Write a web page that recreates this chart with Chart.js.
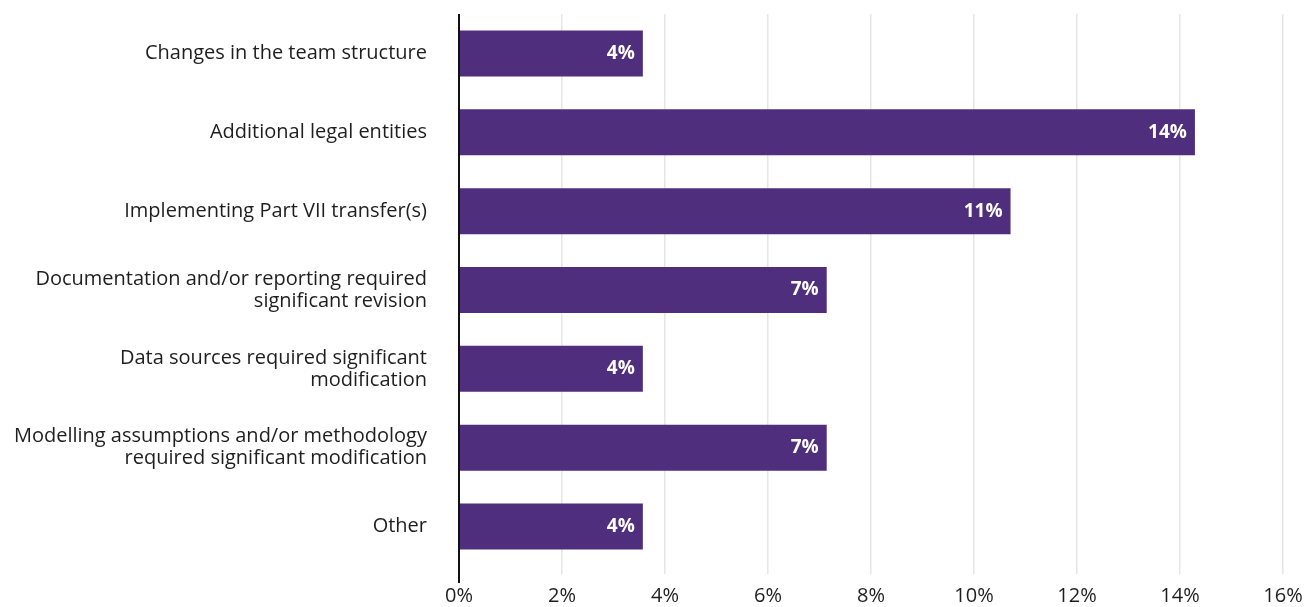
<!DOCTYPE html>
<html>
<head>
<meta charset="utf-8">
<script src="https://cdn.jsdelivr.net/npm/chart.js@4/dist/chart.umd.min.js"></script>
<style>
  html, body { margin: 0; padding: 0; background: #fff; }
  #wrap { width: 1315px; height: 607px; position: relative; }
</style>
</head>
<body>
<div id="wrap"><canvas id="reasonsChart"></canvas></div>
<script>
// Reasons for changes – share of respondents
const categories = [
  "Changes in the team structure",
  "Additional legal entities",
  "Implementing Part VII transfer(s)",
  ["Documentation and/or reporting required", "significant revision"],
  ["Data sources required significant", "modification"],
  ["Modelling assumptions and/or methodology", "required significant modification"],
  "Other",
];
const shares = [3.57, 14.29, 10.71, 7.14, 3.57, 7.14, 3.57];
const tickValues = [0, 2, 4, 6, 8, 10, 12, 14, 16];

const BAR_COLOR = "#4f2e7e";
const TEXT_COLOR = "#1e1e1e";
const GRID_COLOR = "#e8e5e2";
const FONT = "'Open Sans', sans-serif";

/* value labels inside the bar end */
const barValueLabels = {
  id: "barValueLabels",
  afterDatasetsDraw(chart) {
    const { ctx } = chart;
    const meta = chart.getDatasetMeta(0);
    ctx.save();
    ctx.font = `bold 19px ${FONT}`;
    ctx.fillStyle = "#ffffff";
    ctx.textAlign = "right";
    ctx.textBaseline = "middle";
    meta.data.forEach((bar, i) => {
      ctx.fillText(Math.round(shares[i]) + "%", bar.x - 8, bar.y);
    });
    ctx.restore();
  },
};

/* black baseline at zero, running a little below the plot */
const zeroLine = {
  id: "zeroLine",
  afterDraw(chart) {
    const { ctx, chartArea } = chart;
    const x = chart.scales.x.getPixelForValue(0);
    ctx.save();
    ctx.strokeStyle = "#111";
    ctx.lineWidth = 2;
    ctx.beginPath();
    ctx.moveTo(x, chartArea.top);
    ctx.lineTo(x, chartArea.bottom + 17);
    ctx.stroke();
    ctx.restore();
  },
};

new Chart(document.getElementById("reasonsChart"), {
  type: "bar",
  data: {
    labels: categories,
    datasets: [{
      data: shares,
      backgroundColor: BAR_COLOR,
      borderWidth: 0,
      barPercentage: 0.583,
      categoryPercentage: 1,
    }],
  },
  options: {
    indexAxis: "y",
    responsive: true,
    maintainAspectRatio: false,
    animation: false,
    layout: { padding: { top: 14, right: 32, bottom: 0, left: 0 } },
    plugins: { legend: { display: false }, tooltip: { enabled: false } },
    scales: {
      x: {
        min: 0,
        max: 16,
        afterBuildTicks(scale) {
          scale.ticks = tickValues.map((v) => ({ value: v }));
        },
        afterFit(scale) {
          scale.height = 41;
          scale.paddingLeft = 0;
          scale.paddingRight = 0;
        },
        grid: { color: GRID_COLOR, lineWidth: 1.5, tickLength: 8, drawTicks: true },
        border: { display: false },
        ticks: {
          color: TEXT_COLOR,
          font: { family: FONT, size: 20 },
          padding: 10,
          callback: (v) => v + "%",
        },
      },
      y: {
        afterFit(scale) {
          scale.width = 459;
          scale.paddingTop = 0;
          scale.paddingBottom = 0;
        },
        grid: { display: false },
        border: { display: false },
        ticks: {
          color: TEXT_COLOR,
          font: { family: FONT, size: 20, lineHeight: 1.1 },
          padding: 24,
        },
      },
    },
  },
  plugins: [barValueLabels, zeroLine],
});
</script>
</body>
</html>
